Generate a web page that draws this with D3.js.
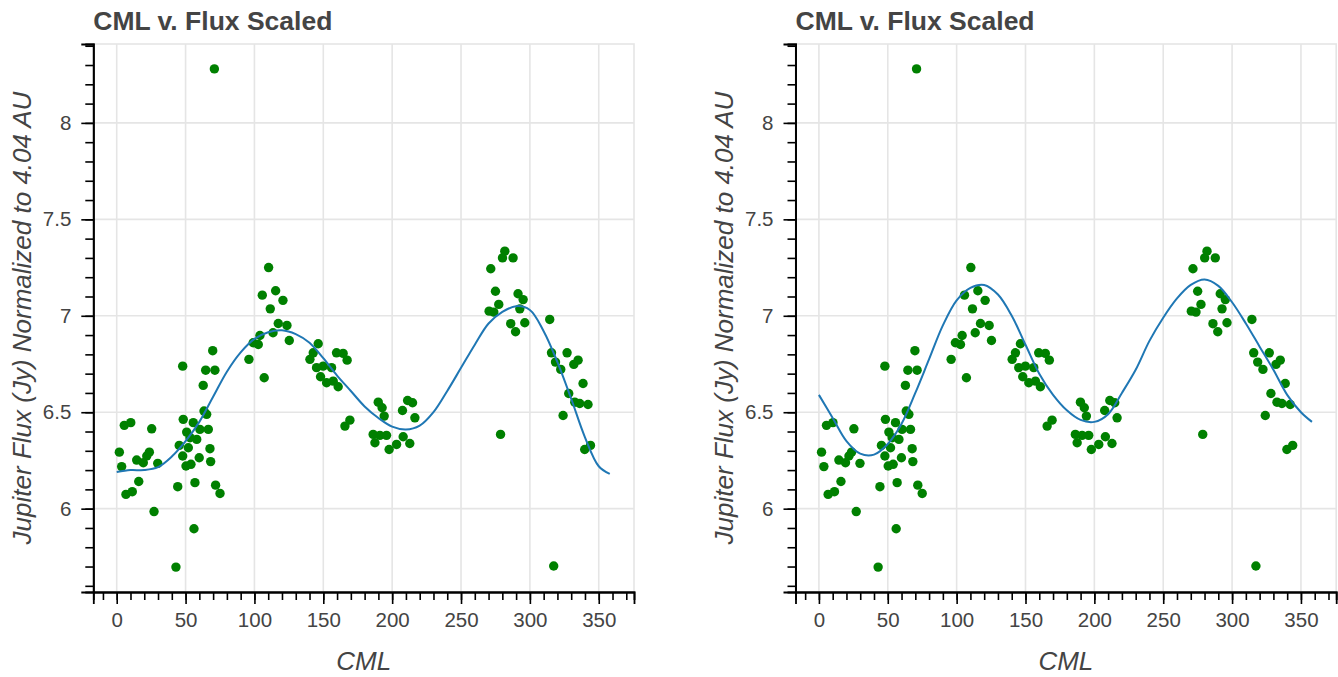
<!DOCTYPE html>
<html>
<head>
<meta charset="utf-8">
<script src="https://cdn.jsdelivr.net/npm/d3@7"></script>
<style>
  body { margin: 0; background: #fff; }
  text { font-family: "Liberation Sans", Arial, Helvetica, sans-serif; fill: #444; }
</style>
</head>
<body>
<div id="wrapper"></div>
<script>
// scatter: CML (deg) and scaled flux (Jy)
const cml = [70.9, 110.3, 105.7, 115.4, 120.7, 111.5, 117.3, 123.6, 113.5, 125.3,
  99.1, 104, 102.8, 96, 107.1, 146.3, 142.7, 140.3, 159.6, 164.4,
  167.3, 145.1, 149.9, 156, 148, 152.4, 157.2, 160.8, 169.3, 165.7,
  1.9, 3.6, 5.5, 10.2, 6.7, 11.3, 16, 14.5, 19.3, 21.8,
  23.7, 25.4, 29.8, 27.1, 43, 44.3, 47.9, 48.3, 50.8, 55.6,
  60.4, 58.1, 45.4, 47.9, 52, 53.2, 50.3, 53.9, 59.9, 56.8,
  66.5, 67.7, 68.2, 63.4, 65.3, 62.8, 64.6, 71.3, 69.7, 71.8,
  75, 56.1, 189.9, 192.7, 194.2, 186.2, 191.1, 195.9, 187.5, 197.8,
  203.2, 208, 212.8, 207.5, 211.2, 214.8, 216.5, 271.6, 275, 280.1,
  281.8, 287.8, 291.4, 295.1, 270.4, 273.8, 277.4, 292.7, 286.1, 289.6,
  296.3, 278.7, 314.4, 315.7, 318.6, 322.4, 327, 331.9, 335, 338.6,
  328.2, 332.6, 336.2, 342.2, 324.1, 339.8, 344, 317.3]
const flux = [8.28, 7.25, 7.107, 7.13, 7.08, 7.036, 6.96, 6.95, 6.912, 6.872,
  6.86, 6.898, 6.851, 6.774, 6.679, 6.855, 6.808, 6.774, 6.808, 6.805,
  6.77, 6.731, 6.739, 6.731, 6.684, 6.653, 6.661, 6.632, 6.459, 6.428,
  6.293, 6.218, 6.432, 6.446, 6.074, 6.088, 6.141, 6.252, 6.238, 6.273,
  6.293, 6.414, 6.235, 5.985, 5.697, 6.114, 6.739, 6.463, 6.397, 6.446,
  6.411, 6.359, 6.328, 6.273, 6.316, 6.368, 6.221, 6.23, 6.264, 6.135,
  6.411, 6.311, 6.244, 6.506, 6.489, 6.639, 6.718, 6.718, 6.819, 6.122,
  6.079, 5.896, 6.552, 6.523, 6.48, 6.385, 6.38, 6.38, 6.342, 6.307,
  6.333, 6.373, 6.338, 6.509, 6.561, 6.549, 6.471, 7.244, 7.127, 7.3,
  7.335, 7.3, 7.114, 7.084, 7.024, 7.019, 7.059, 7.036, 6.959, 6.917,
  6.964, 6.385, 6.981, 6.808, 6.76, 6.722, 6.808, 6.748, 6.77, 6.649,
  6.597, 6.552, 6.545, 6.54, 6.483, 6.307, 6.328, 5.703]

// fitted curves
const fitX = [0, 10, 20, 30, 40, 50, 60, 70, 80, 90, 100, 110, 120, 130, 140, 150, 160, 170, 180,
  190, 200, 210, 220, 230, 240, 250, 260, 270, 280, 290, 300, 310, 320, 330, 340, 350, 358]
const fitLeft = [6.19, 6.2, 6.2, 6.215, 6.27, 6.35, 6.45, 6.58, 6.71, 6.81, 6.88, 6.915, 6.925, 6.905, 6.86, 6.78, 6.69, 6.61, 6.53,
  6.47, 6.425, 6.41, 6.43, 6.5, 6.61, 6.73, 6.85, 6.96, 7.02, 7.05, 7.03, 6.92, 6.76, 6.57, 6.37, 6.22, 6.18]
const fitRight = [6.59, 6.47, 6.35, 6.285, 6.28, 6.335, 6.44, 6.6, 6.775, 6.95, 7.08, 7.145, 7.16, 7.11, 7.0, 6.85, 6.7, 6.59, 6.51,
  6.46, 6.45, 6.49, 6.6, 6.72, 6.87, 6.99, 7.09, 7.16, 7.188, 7.155, 7.07, 6.96, 6.84, 6.72, 6.59, 6.5, 6.45]

const xTicks = [0, 50, 100, 150, 200, 250, 300, 350]
const yTicks = [6, 6.5, 7, 7.5, 8]
const titleText = "CML v. Flux Scaled"
const xLabel = "CML"
const yLabel = "Jupiter Flux (Jy) Normalized to 4.04 AU"

let dimensions = {width: 1338, height: 677, frameW: 540.7, frameH: 548, top: 44, left: 93.3}

var svg = d3.select("#wrapper").append("svg")
  .attr("width", dimensions.width)
  .attr("height", dimensions.height)

function drawPanel(left, fitY) {
  var g = svg.append("g").attr("transform", `translate(${left},${dimensions.top})`)
  var w = dimensions.frameW, h = dimensions.frameH

  var xScale = d3.scaleLinear().domain([-17, 375.6]).range([0, w])
  var yScale = d3.scaleLinear().domain([5.568, 8.409]).range([h, 0])

  // grid
  g.selectAll(".gx").data(xTicks).enter().append("line")
    .attr("x1", d => xScale(d)).attr("x2", d => xScale(d))
    .attr("y1", 0).attr("y2", h)
    .attr("stroke", "#e5e5e5").attr("stroke-width", 1.6)
  g.selectAll(".gy").data(yTicks).enter().append("line")
    .attr("x1", 0).attr("x2", w)
    .attr("y1", d => yScale(d)).attr("y2", d => yScale(d))
    .attr("stroke", "#e5e5e5").attr("stroke-width", 1.6)
  // outline
  g.append("rect").attr("width", w).attr("height", h)
    .attr("fill", "none").attr("stroke", "#e5e5e5").attr("stroke-width", 1.6)

  // points
  g.selectAll("circle").data(cml).enter().append("circle")
    .attr("cx", d => xScale(d))
    .attr("cy", (d, i) => yScale(flux[i]))
    .attr("r", 4.7)
    .style("fill", "green")

  // fit line
  var line = d3.line()
    .x(d => xScale(d))
    .y((d, i) => yScale(fitY[i]))
    .curve(d3.curveCatmullRom)
  g.append("path").datum(fitX)
    .attr("d", line)
    .attr("fill", "none")
    .attr("stroke", "#1f77b4")
    .attr("stroke-width", 2)

  // axes
  var xMinor = d3.range(-10, 371, 10)
  var yMinor = d3.range(5.6, 8.41, 0.1)
  var xAxis = g.append("g").attr("transform", `translate(0,${h})`)
  xAxis.call(d3.axisBottom(xScale).tickValues(xMinor).tickSize(8).tickFormat(""))
  xAxis.append("g").call(d3.axisBottom(xScale).tickValues(xTicks).tickSize(12).tickPadding(8).tickFormat(d3.format("d")))
  var yAxis = g.append("g")
  yAxis.call(d3.axisLeft(yScale).tickValues(yMinor).tickSize(8).tickFormat(""))
  yAxis.append("g").call(d3.axisLeft(yScale).tickValues(yTicks).tickSize(12).tickPadding(10).tickFormat(d => String(d)))

  g.selectAll(".domain").attr("stroke", "#000").attr("stroke-width", 1.8)
  g.selectAll(".tick line").attr("stroke", "#000").attr("stroke-width", 1.6)
  g.selectAll(".tick text").style("font-size", "20.5px").style("fill", "#444")
    .style("font-family", '"Liberation Sans", Arial, sans-serif')

  // title and labels
  g.append("text").attr("x", 0).attr("y", -14)
    .style("font-size", "26.5px").style("font-weight", "bold")
    .text(titleText)
  g.append("text").attr("x", w / 2).attr("y", h + 78)
    .attr("text-anchor", "middle")
    .style("font-size", "26px").style("font-style", "italic")
    .text(xLabel)
  g.append("text")
    .attr("transform", `translate(${31 - dimensions.left},${h / 2}) rotate(-90)`)
    .attr("text-anchor", "middle")
    .style("font-size", "26px").style("font-style", "italic")
    .text(yLabel)
}

drawPanel(dimensions.left, fitLeft)
drawPanel(795.5, fitRight)
</script>
</body>
</html>
